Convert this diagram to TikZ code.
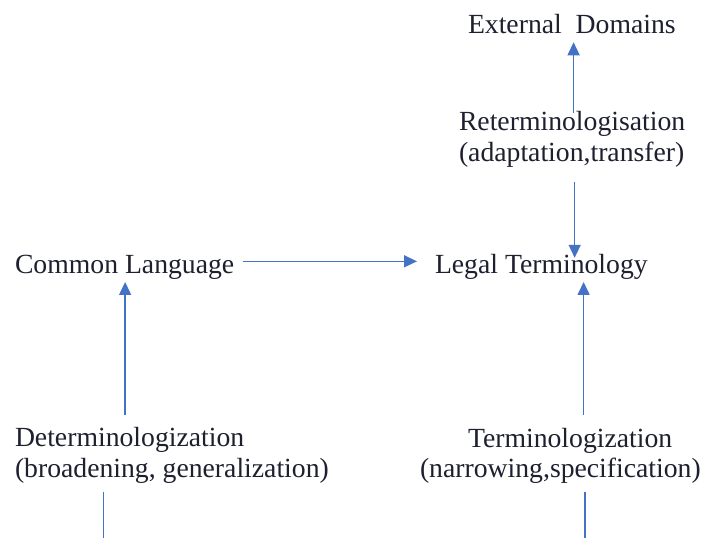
\documentclass[tikz,border=0pt]{standalone}
\usepackage{fontspec}
\setmainfont{Liberation Serif}
\usetikzlibrary{arrows.meta,calc}
\definecolor{arrowblue}{HTML}{4472C4}
\definecolor{textdark}{HTML}{1E2030}
\begin{document}
\begin{tikzpicture}[x=1pt,y=-1pt,
  lbl/.style={anchor=base west, inner sep=0pt, outer sep=0pt, text=textdark, font=\fontsize{27.7}{33}\selectfont},
  arr/.style={draw=arrowblue, line width=1.5pt, -{Triangle[length=13pt,width=12pt]}},
  ln/.style={draw=arrowblue, line width=1.5pt}]
\useasboundingbox (0,0) rectangle (701,538);
\fill[white] (0,0) rectangle (701,538);
\node[lbl] (ext) at (468,33) {External\ \ Domains};
\node[lbl] (ret1) at (459,130) {Reterminologisation};
\node[lbl] (ret2) at (459,161) {(adaptation,transfer)};
\node[lbl] (legal) at (435,273) {Legal Terminology};
\node[lbl] (common) at (15,273) {Common Language};
\node[lbl] (det1) at (15,446) {Determinologization};
\node[lbl] (det2) at (15,477) {(broadening, generalization)};
\node[lbl] (term1) at (468,447) {Terminologization};
\node[lbl] (term2) at (420,477) {(narrowing,specification)};
% connector end points, kept on vertical/horizontal lines
\coordinate (a1s) at ($(ret1.north)+(1.5,2)$);
\coordinate (a1e) at ($(a1s |- ext.south)+(0,9)$);
\coordinate (a2s) at ($(ret2.south)+(3,15)$);
\coordinate (a2e) at ($(a2s |- legal.north)+(0,4)$);
\coordinate (a3s) at ($(common.east)+(9,-5.5)$);
\coordinate (a3e) at ($(a3s -| legal.west)+(-18,0)$);
\coordinate (a4e) at ($(common.south)+(0.5,3)$);
\coordinate (a4s) at ($(a4e |- det1.north)+(0,-12)$);
\coordinate (a5s) at ($(term1.north)+(13.5,-13)$);
\coordinate (a5e) at ($(a5s |- legal.south)+(0,3)$);
\coordinate (b1s) at ($(det2.south)+(-68.5,9)$);
\coordinate (botL) at (b1s |- 0,538);
\coordinate (b2s) at ($(term2.south)+(24.5,9)$);
\coordinate (botR) at (b2s |- 0,538);
\draw[arr] (a1s) -- (a1e);
\draw[arr] (a2s) -- (a2e);
\draw[arr] (a3s) -- (a3e);
\draw[arr] (a4s) -- (a4e);
\draw[arr] (a5s) -- (a5e);
\draw[ln] (b1s) -- (botL);
\draw[ln] (b2s) -- (botR);
\end{tikzpicture}
\end{document}
